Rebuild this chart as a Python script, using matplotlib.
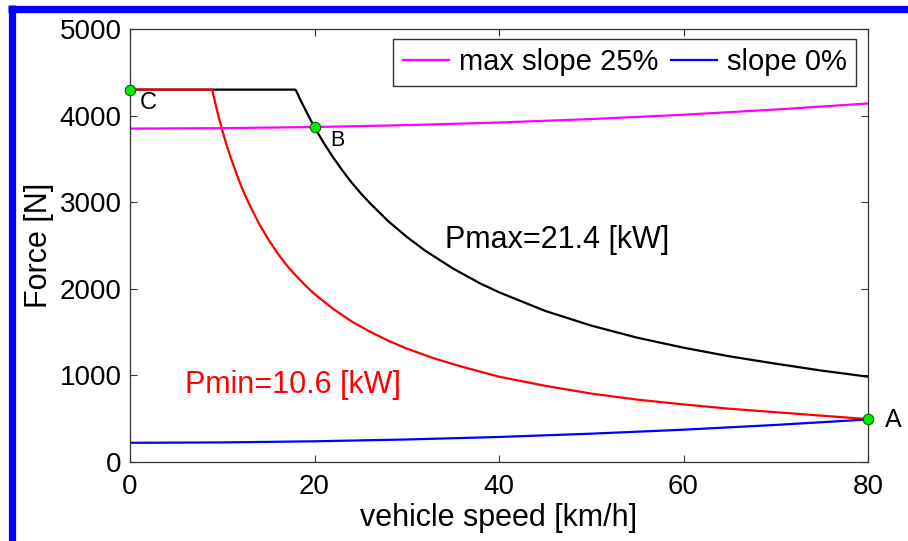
import matplotlib
matplotlib.use("Agg")
import matplotlib.pyplot as plt
from matplotlib.lines import Line2D

plt.rcParams['font.family'] = ['Liberation Sans', 'DejaVu Sans']

# ---- data ----
speed_min = [0, 8.9, 9.5, 10, 10.5, 11, 11.5, 12, 12.5, 13, 14, 15, 16, 17, 18, 19, 20, 22, 24, 26, 28, 30,
             33, 36, 40, 45, 50, 55, 60, 65, 70, 75, 80]
force_min = [4300, 4300, 4030, 3830, 3650, 3490, 3340, 3200, 3075, 2960, 2750, 2570, 2410, 2270, 2150,
             2040, 1940, 1770, 1625, 1505, 1400, 1310, 1195, 1100, 985, 880, 790, 720, 665, 615, 575, 535, 495]

speed_max = [0, 17.9, 18, 18.5, 19, 19.5, 20, 21, 22, 23, 24, 25, 26, 28, 30, 32, 35, 38, 40, 45, 50, 55,
             60, 65, 70, 75, 80]
force_max = [4300, 4300, 4290, 4175, 4070, 3965, 3865, 3685, 3520, 3370, 3230, 3105, 2990, 2780, 2600,
             2440, 2235, 2060, 1960, 1745, 1575, 1435, 1320, 1220, 1135, 1055, 985]

speed_res = [0, 10, 20, 30, 40, 50, 60, 70, 80]
force_slope25 = [3850, 3855, 3868, 3890, 3920, 3960, 4010, 4070, 4140]
force_slope0 = [222, 226, 239, 260, 289, 327, 373, 428, 491]

point_names = ['A', 'B', 'C']
point_speed = [80, 20, 0]
point_force = [492, 3865, 4300]

x_ticks = [0, 20, 40, 60, 80]
y_ticks = [0, 1000, 2000, 3000, 4000, 5000]

W, H = 908, 541
fig = plt.figure(figsize=(W / 100, H / 100), dpi=100)
fig.patch.set_facecolor('white')

# blue frame (top and left edges)
fig.add_artist(Line2D([8 / W, 1.0], [1 - 8.5 / H, 1 - 8.5 / H], color='#0000ff', lw=5.2,
                      transform=fig.transFigure, solid_capstyle='butt'))
fig.add_artist(Line2D([11.5 / W, 11.5 / W], [1 - 5 / H, 0.0], color='#0000ff', lw=5.2,
                      transform=fig.transFigure, solid_capstyle='butt'))

ax = fig.add_axes([130 / W, 1 - 462 / H, 738 / W, 433 / H])

ax.plot(speed_max, force_max, color='black', lw=1.6)
ax.plot(speed_min, force_min, color='#ff0000', lw=1.6)
l1, = ax.plot(speed_res, force_slope25, color='#ff00ff', lw=1.6, label='max slope 25%')
l2, = ax.plot(speed_res, force_slope0, color='#0000ff', lw=1.6, label='slope 0%')

ax.plot(point_speed, point_force, linestyle='none', marker='o', markersize=7.5,
        markerfacecolor='#00ee00', markeredgecolor='#006600', markeredgewidth=0.8,
        clip_on=False, zorder=5)

label_off = {'A': (2.7, -5), 'B': (2.45, -150), 'C': (2.0, -150)}
label_size = {'A': 18, 'B': 15.5, 'C': 17}
for n, sx, fy in zip(point_names, point_speed, point_force):
    dx, dy = label_off[n]
    ax.text(sx + dx, fy + dy, n, fontsize=label_size[n], ha='center', va='center', clip_on=False)

ax.text(34.1, 2560, 'Pmax=21.4 [kW]', fontsize=22, color='black', ha='left', va='center')
ax.text(6.0, 890, 'Pmin=10.6 [kW]', fontsize=22, color='#ff0000', ha='left', va='center')

ax.set_xlim(0, 80)
ax.set_ylim(0, 5000)
ax.set_xticks(x_ticks)
ax.set_yticks(y_ticks)
ax.set_xticklabels([str(t) for t in x_ticks])
ax.set_yticklabels([str(t) for t in y_ticks])
ax.tick_params(direction='in', length=5, width=0.8, color='#333333', labelsize=20,
               top=True, right=True)
ax.tick_params(axis='x', pad=9)
ax.tick_params(axis='y', pad=6)
for sp in ax.spines.values():
    sp.set_color('#333333')
    sp.set_linewidth(0.9)

ax.set_xlabel('vehicle speed [km/h]', fontsize=22, labelpad=2)
ax.set_ylabel('Force [N]', fontsize=22, labelpad=4)

leg = ax.legend(handles=[l1, l2], loc='upper right', ncol=2, fontsize=21,
                bbox_to_anchor=(856 / W, 1 - 39 / H), bbox_transform=fig.transFigure,
                frameon=True, fancybox=False, edgecolor='black', borderpad=0.32,
                handlelength=1.6, handletextpad=0.33, columnspacing=0.42, borderaxespad=0)
leg.get_frame().set_linewidth(1.0)

fig.savefig('out.png', dpi=100, facecolor='white')
